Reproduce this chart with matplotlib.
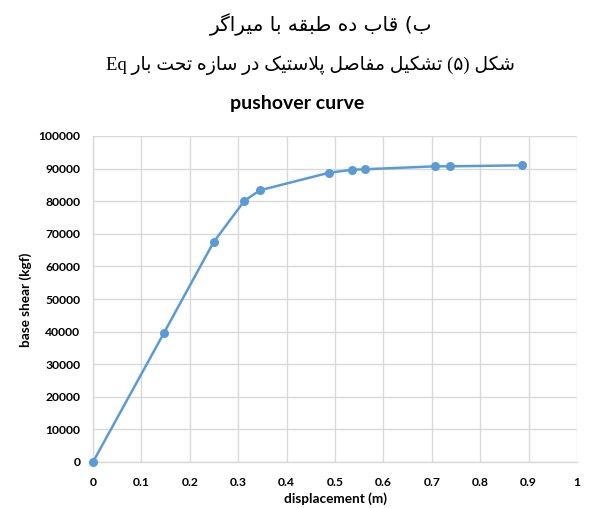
import matplotlib
matplotlib.use("Agg")
import matplotlib.pyplot as plt

# ---------------- data ----------------
displacement = [0.0, 0.147, 0.249, 0.313, 0.345, 0.488, 0.536, 0.562, 0.707, 0.738, 0.886]
base_shear = [0, 39700, 67400, 80150, 83350, 88750, 89650, 89800, 90700, 90700, 91000]
x_ticks = [0, 0.1, 0.2, 0.3, 0.4, 0.5, 0.6, 0.7, 0.8, 0.9, 1]
x_tick_labels = ["0", "0.1", "0.2", "0.3", "0.4", "0.5", "0.6", "0.7", "0.8", "0.9", "1"]
y_ticks = [0, 10000, 20000, 30000, 40000, 50000, 60000, 70000, 80000, 90000, 100000]
y_tick_labels = [str(v) for v in y_ticks]
caption_1 = "ب) قاب ده طبقه با میراگر"
caption_2 = "شکل (۵) تشکیل مفاصل پلاستیک در سازه تحت بار Eq"
chart_title = "pushover curve"
x_label = "displacement (m)"
y_label = "base shear (kgf)"

# ------------- simple Arabic/Persian shaping + RTL ordering -------------
FORMS = {
    '\u0628': (0xFE8F, 0xFE90, 0xFE91, 0xFE92),
    '\u062A': (0xFE95, 0xFE96, 0xFE97, 0xFE98),
    '\u062D': (0xFEA1, 0xFEA2, 0xFEA3, 0xFEA4),
    '\u062F': (0xFEA9, 0xFEAA),
    '\u0631': (0xFEAD, 0xFEAE),
    '\u0632': (0xFEAF, 0xFEB0),
    '\u0633': (0xFEB1, 0xFEB2, 0xFEB3, 0xFEB4),
    '\u0634': (0xFEB5, 0xFEB6, 0xFEB7, 0xFEB8),
    '\u0635': (0xFEB9, 0xFEBA, 0xFEBB, 0xFEBC),
    '\u0637': (0xFEC1, 0xFEC2, 0xFEC3, 0xFEC4),
    '\u0641': (0xFED1, 0xFED2, 0xFED3, 0xFED4),
    '\u0642': (0xFED5, 0xFED6, 0xFED7, 0xFED8),
    '\u0644': (0xFEDD, 0xFEDE, 0xFEDF, 0xFEE0),
    '\u0645': (0xFEE1, 0xFEE2, 0xFEE3, 0xFEE4),
    '\u0647': (0xFEE9, 0xFEEA, 0xFEEB, 0xFEEC),
    '\u0627': (0xFE8D, 0xFE8E),
    '\u067E': (0xFB56, 0xFB57, 0xFB58, 0xFB59),
    '\u06A9': (0xFB8E, 0xFB8F, 0xFB90, 0xFB91),
    '\u06AF': (0xFB92, 0xFB93, 0xFB94, 0xFB95),
    '\u06CC': (0xFBFC, 0xFBFD, 0xFBFE, 0xFBFF),
}
MIRROR = {'(': ')', ')': '('}


def is_ar(c):
    return c in FORMS


def dual(c):
    return c in FORMS and len(FORMS[c]) == 4


def shape_word(w):
    out = []
    i = 0
    n = len(w)
    while i < n:
        c = w[i]
        if not is_ar(c):
            out.append(c)
            i += 1
            continue
        prev_joins = i > 0 and dual(w[i - 1])
        # lam-alef ligature
        if c == '\u0644' and i + 1 < n and w[i + 1] == '\u0627':
            out.append(chr(0xFEFC if prev_joins else 0xFEFB))
            i += 2
            continue
        next_joins = dual(c) and i + 1 < n and is_ar(w[i + 1])
        f = FORMS[c]
        if prev_joins and next_joins:
            g = f[3]
        elif prev_joins:
            g = f[1]
        elif next_joins:
            g = f[2]
        else:
            g = f[0]
        out.append(chr(g))
        i += 1
    return ''.join(out)


def rtl(text):
    words = text.split(' ')
    vis = []
    for w in words:
        if any(is_ar(c) or '\u06F0' <= c <= '\u06F9' for c in w):
            s = shape_word(w)
            s = ''.join(MIRROR.get(c, c) for c in reversed(s))
        else:
            s = w
        vis.append(s)
    return ' '.join(reversed(vis))


# ---------------- figure ----------------
W, H = 592, 508
fig = plt.figure(figsize=(W / 100, H / 100), dpi=100)
fig.patch.set_facecolor("white")

ax = fig.add_axes([93 / W, 1 - 462 / H, (577 - 93) / W, (462 - 136) / H])

line_color = "#5B9BD5"
ax.plot(displacement, base_shear, color=line_color, lw=1.8, marker="o",
        markersize=5.5, markerfacecolor=line_color, markeredgecolor=line_color,
        zorder=3, clip_on=False)

ax.set_xlim(0, 1)
ax.set_ylim(0, 100000)
ax.set_xticks(x_ticks)
ax.set_xticklabels(x_tick_labels)
ax.set_yticks(y_ticks)
ax.set_yticklabels(y_tick_labels)

grid_c = "#D9D9D9"
ax.grid(True, color=grid_c, lw=1.0)
ax.set_axisbelow(True)
for s in ["top", "right"]:
    ax.spines[s].set_visible(False)
ax.spines["left"].set_color(grid_c)
ax.spines["bottom"].set_color(grid_c)
ax.spines["left"].set_linewidth(1.0)
ax.spines["bottom"].set_linewidth(1.0)
ax.tick_params(length=0, pad=9, colors="#000000")
ax.tick_params(axis="x", pad=11)

for lab in ax.get_xticklabels() + ax.get_yticklabels():
    lab.set_fontfamily("Lato")
    lab.set_fontweight("bold")
    lab.set_fontsize(8.7)

label_font = dict(family="Lato", weight="bold", size=9.8)
fig.text(335 / W, 1 - 499 / H, x_label, ha="center", va="center", **label_font)
fig.text(26 / W, 1 - 300 / H, y_label, ha="center", va="center", rotation=90, **label_font)

fig.text(297 / W, 1 - 104 / H, chart_title, ha="center", va="center",
         family="Lato", weight="bold", size=14)

fig.text(321 / W, 1 - 25 / H, rtl(caption_1), ha="center", va="center",
         family=["DejaVu Sans"], size=14.5)
fig.text(310 / W, 1 - 65 / H, rtl(caption_2), ha="center", va="center",
         family=["Liberation Serif", "DejaVu Sans"], size=13.5)

fig.savefig("out.png", dpi=100, facecolor="white")
